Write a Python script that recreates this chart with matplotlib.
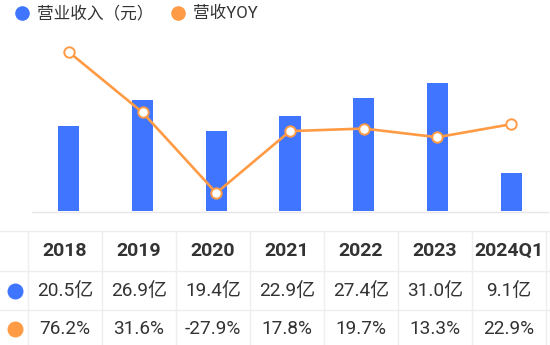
import numpy as np
import matplotlib
matplotlib.use('Agg')
import matplotlib.pyplot as plt

plt.rcParams['font.family'] = ['Roboto', 'Noto Sans CJK SC', 'DejaVu Sans']

# ── Data ─────────────────────────────────────────────────────────────────────
periods = ['2018', '2019', '2020', '2021', '2022', '2023', '2024Q1']
revenue = [20.5, 26.9, 19.4, 22.9, 27.4, 31.0, 9.1]          # 亿元
yoy     = [76.2, 31.6, -27.9, 17.8, 19.7, 13.3, 22.9]        # %
rev_labels = ['20.5亿', '26.9亿', '19.4亿', '22.9亿', '27.4亿', '31.0亿', '9.1亿']
yoy_labels = ['76.2%', '31.6%', '-27.9%', '17.8%', '19.7%', '13.3%', '22.9%']
legend_labels = ['营业收入（元）', '营收YOY']
# ─────────────────────────────────────────────────────────────────────────────

BLUE   = '#3F75FF'
ORANGE = '#FF9A45'
TEXT   = '#333333'
GRID   = '#EEEEEE'

W, H = 550, 345
fig = plt.figure(figsize=(W / 100, H / 100), dpi=100)


def px_axes(left, top, right, bottom):
    return fig.add_axes([left / W, 1 - bottom / H, (right - left) / W, (bottom - top) / H])


# chart area
ax = px_axes(32, 40, 548, 211)
x = np.arange(len(periods))
ax.bar(x, revenue, width=0.285, color=BLUE, zorder=2)
ax.set_xlim(-0.5, len(periods) - 0.5)
ax.set_ylim(0, 41.4)
ax.axis('off')

ax2 = ax.twinx()
ax2.plot(x, yoy, color=ORANGE, lw=1.9, marker='o', markersize=7.5,
         markerfacecolor='white', markeredgecolor=ORANGE, markeredgewidth=1.4, zorder=3)
ax2.set_ylim(-41.2, 85.1)
ax2.axis('off')

# overlay in pixel coords for legend + table
ov = fig.add_axes([0, 0, 1, 1])
ov.set_xlim(0, W)
ov.set_ylim(H, 0)
ov.axis('off')

ov.plot([32, 548], [211.5, 211.5], color='#E6E6E6', lw=1)

# legend
ov.scatter([22], [13], s=90, color=BLUE, zorder=3)
ov.text(37, 13, legend_labels[0], fontsize=12, color=TEXT, va='center', ha='left')
ov.scatter([178], [13], s=90, color=ORANGE, zorder=3)
ov.text(193, 13, legend_labels[1], fontsize=12, color=TEXT, va='center', ha='left')

# table
col_edges = [28 + 74 * i for i in range(len(periods) + 1)]
row_edges = [231, 271, 310]
for y in row_edges:
    ov.plot([0, W], [y, y], color=GRID, lw=1)
for xe in col_edges:
    ov.plot([xe, xe], [231, H], color=GRID, lw=1)

row_y = [251, 291, 329]
for i, p in enumerate(periods):
    cx = (col_edges[i] + col_edges[i + 1]) / 2
    ov.text(cx, row_y[0], p, fontsize=14, fontweight='bold', color=TEXT,
            ha='center', va='center')
    ov.text(cx, row_y[1], rev_labels[i], fontsize=13.7, color=TEXT,
            ha='center', va='center')
    ov.text(cx, row_y[2], yoy_labels[i], fontsize=13.7, color=TEXT,
            ha='center', va='center')

ov.scatter([15], [row_y[1]], s=110, color=BLUE, zorder=3)
ov.scatter([15], [row_y[2]], s=110, color=ORANGE, zorder=3)

fig.savefig('out.png', dpi=100, facecolor='white')
